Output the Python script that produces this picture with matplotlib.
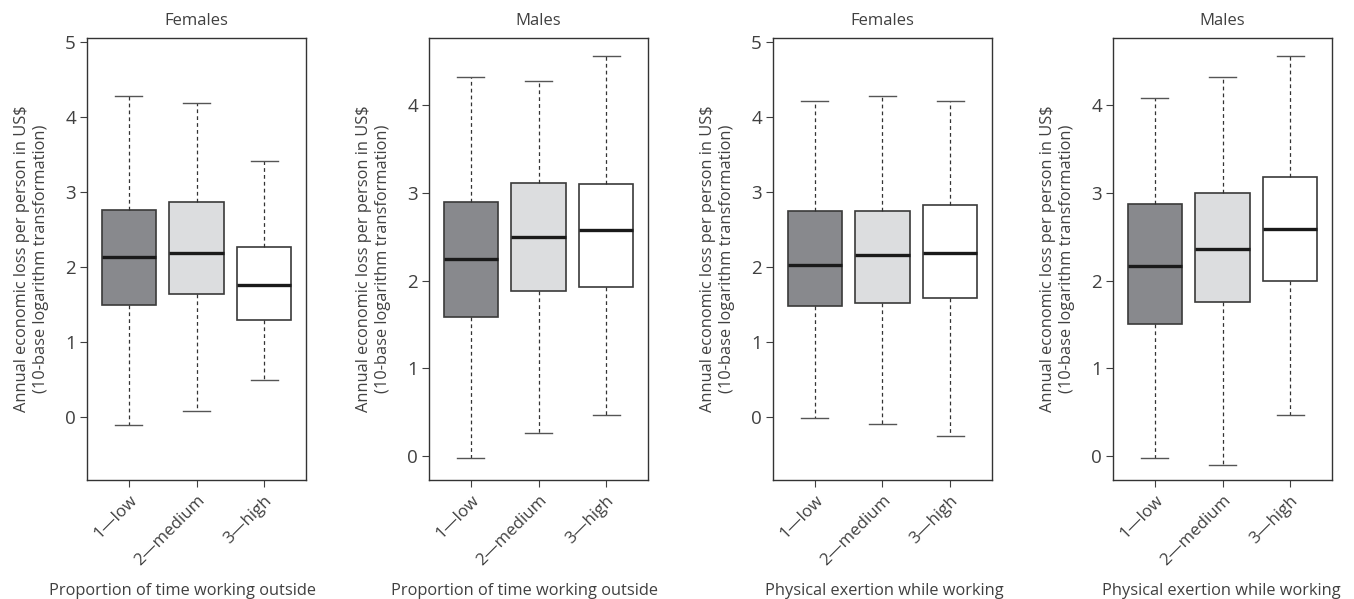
import matplotlib
matplotlib.use("Agg")
import matplotlib.pyplot as plt

plt.rcParams["font.family"] = ["Open Sans", "DejaVu Sans"]

# Data: whisker low, Q1, median, Q3, whisker high
categories = ["1\u2014low", "2\u2014medium", "3\u2014high"]
titles = ["Females", "Males", "Females", "Males"]
xlabels = ["Proportion of time working outside", "Proportion of time working outside",
           "Physical exertion while working", "Physical exertion while working"]

low_1 = [-0.11, 0.085, 0.49]
q1_1 = [1.49, 1.64, 1.29]
med_1 = [2.13, 2.19, 1.76]
q3_1 = [2.76, 2.86, 2.26]
high_1 = [4.28, 4.18, 3.41]

low_2 = [-0.015, 0.27, 0.47]
q1_2 = [1.59, 1.88, 1.93]
med_2 = [2.24, 2.50, 2.57]
q3_2 = [2.89, 3.11, 3.10]
high_2 = [4.32, 4.27, 4.56]

low_3 = [-0.02, -0.10, -0.26]
q1_3 = [1.48, 1.52, 1.59]
med_3 = [2.03, 2.16, 2.18]
q3_3 = [2.75, 2.75, 2.83]
high_3 = [4.21, 4.28, 4.21]

low_4 = [-0.015, -0.095, 0.47]
q1_4 = [1.50, 1.75, 2.00]
med_4 = [2.16, 2.36, 2.59]
q3_4 = [2.87, 3.00, 3.18]
high_4 = [4.08, 4.32, 4.56]

panels = [
    (low_1, q1_1, med_1, q3_1, high_1),
    (low_2, q1_2, med_2, q3_2, high_2),
    (low_3, q1_3, med_3, q3_3, high_3),
    (low_4, q1_4, med_4, q3_4, high_4),
]
ylims = [(-0.84, 5.05), (-0.27, 4.76), (-0.84, 5.05), (-0.27, 4.76)]
yticks = [range(0, 6), range(0, 5), range(0, 6), range(0, 5)]
xlabel_x = [0.436, 0.436, 0.51, 0.495]

box_colors = ["#88898d", "#dcdddf", "#ffffff"]
text_color = "#404040"

W, H = 1354, 599
fig = plt.figure(figsize=(W / 100, H / 100), dpi=100)
lefts = [87, 429, 773, 1113]
ax_w = 219
top_px, bot_px = 38, 480

for k, (lo, q1, med, q3, hi) in enumerate(panels):
    ax = fig.add_axes([lefts[k] / W, 1 - bot_px / H, ax_w / W, (bot_px - top_px) / H])
    stats = []
    for i in range(3):
        stats.append({"whislo": lo[i], "q1": q1[i], "med": med[i], "q3": q3[i],
                      "whishi": hi[i], "fliers": []})
    bp = ax.bxp(stats, positions=[1, 2, 3], widths=0.8, patch_artist=True,
                showfliers=False,
                boxprops=dict(edgecolor="#3a3a3a", linewidth=1.2),
                medianprops=dict(color="#1a1a1a", linewidth=2.4, solid_capstyle="butt"),
                whiskerprops=dict(color="#333333", linewidth=0.9, linestyle=(0, (3, 2.5))),
                capprops=dict(color="#555555", linewidth=1.0),
                capwidths=0.4)
    for patch, c in zip(bp["boxes"], box_colors):
        patch.set_facecolor(c)

    ax.set_xlim(0.38, 3.62)
    ax.set_ylim(*ylims[k])
    ax.set_yticks(list(yticks[k]))
    ax.set_xticks([1, 2, 3])
    ax.set_xticklabels(categories, rotation=45, ha="right", rotation_mode="anchor",
                       fontsize=12.2, color=text_color)
    ax.tick_params(axis="y", labelsize=13.5, colors=text_color, length=5, width=0.8, pad=3)
    ax.tick_params(axis="x", length=5, width=0.8, pad=4, colors=text_color)
    for s in ax.spines.values():
        s.set_color("#333333")
        s.set_linewidth(1.0)

    ax.set_title(titles[k], fontsize=12, color=text_color, pad=9.5)
    ax.set_ylabel("Annual economic loss per person in US$\n(10-base logarithm transformation)",
                  fontsize=11.8, color=text_color, linespacing=1.2)
    ax.yaxis.set_label_coords(-0.175, 0.5)
    ax.set_xlabel(xlabels[k], fontsize=11.8, color=text_color)
    ax.xaxis.set_label_coords(xlabel_x[k], -0.232)

fig.savefig("out.png", dpi=100)
